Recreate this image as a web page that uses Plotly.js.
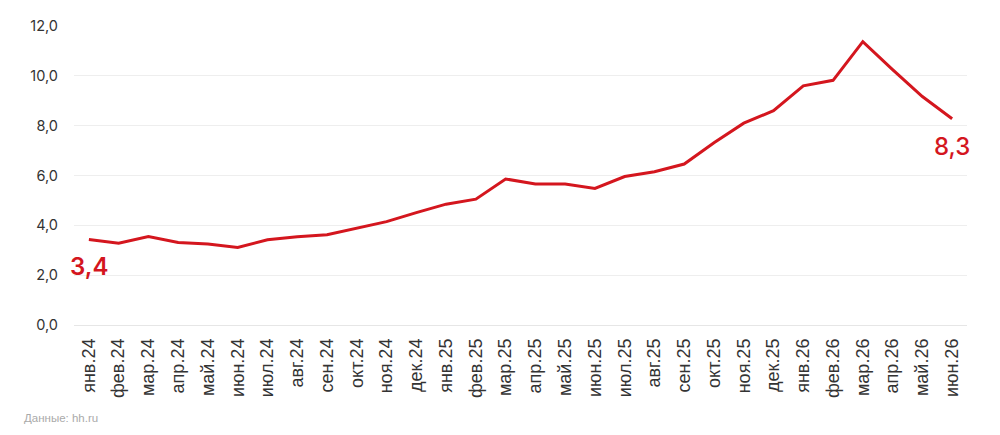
<!DOCTYPE html>
<html>
<head>
<meta charset="utf-8">
<script src="https://cdn.plot.ly/plotly-3.0.1.min.js"></script>
<style>html,body{margin:0;padding:0;background:#fff;}#chart{width:1000px;height:435px;}</style>
</head>
<body>
<div id="chart"></div>
<script>
var months = ["янв.24","фев.24","мар.24","апр.24","май.24","июн.24","июл.24","авг.24","сен.24","окт.24","ноя.24","дек.24",
  "янв.25","фев.25","мар.25","апр.25","май.25","июн.25","июл.25","авг.25","сен.25","окт.25","ноя.25","дек.25",
  "янв.26","фев.26","мар.26","апр.26","май.26","июн.26"];
var values = [3.43,3.28,3.55,3.31,3.25,3.11,3.42,3.54,3.62,3.88,4.15,4.51,
  4.85,5.05,5.86,5.66,5.66,5.48,5.96,6.15,6.46,7.31,8.1,8.6,
  9.6,9.82,11.37,10.25,9.17,8.28];
var firstLabel = "3,4";
var lastLabel = "8,3";
var source = "Данные: hh.ru";

var red = "#d4161e";
var trace = {
  x: months, y: values, type: "scatter", mode: "lines",
  line: {color: red, width: 3}, hoverinfo: "skip"
};
var layout = {
  width: 1000, height: 435,
  margin: {l: 74, r: 33, t: 26, b: 110},
  paper_bgcolor: "#fff", plot_bgcolor: "#fff",
  separators: ", ",
  showlegend: false,
  xaxis: {
    type: "category", range: [-0.5, 29.5],
    showgrid: false, zeroline: false, showline: false,
    tickangle: -90, ticks: "", ticklabelstandoff: 9,
    tickfont: {family: "Liberation Sans, Arial, sans-serif", size: 18, color: "#333"}
  },
  yaxis: {
    range: [0, 12], dtick: 2, tick0: 0, tickformat: ".1f",
    showgrid: true, gridcolor: "#eeeeee", gridwidth: 1,
    zeroline: true, zerolinecolor: "#e6e6e6", zerolinewidth: 1,
    showline: false, ticks: "", ticklabelstandoff: 15,
    tickfont: {family: "Inter, Roboto, sans-serif", size: 14.5, color: "#333"}
  },
  annotations: [
    {x: months[0], y: values[0], xref: "x", yref: "y", text: firstLabel, showarrow: false,
     yshift: -27, xshift: 0, font: {family: "Inter, Roboto, sans-serif", size: 24, color: red, weight: 600}},
    {x: months[months.length-1], y: values[values.length-1], xref: "x", yref: "y", text: lastLabel, showarrow: false,
     yshift: -28, xshift: 0, font: {family: "Inter, Roboto, sans-serif", size: 24, color: red, weight: 500}},
    {x: 0, y: 0, xref: "paper", yref: "paper", xanchor: "left", yanchor: "middle",
     xshift: -52, yshift: -93, text: source, showarrow: false,
     font: {family: "Liberation Sans, Arial, sans-serif", size: 11.5, color: "#aaaaaa"}}
  ]
};
Plotly.newPlot("chart", [trace], layout, {staticPlot: true, displayModeBar: false});
</script>
</body>
</html>
